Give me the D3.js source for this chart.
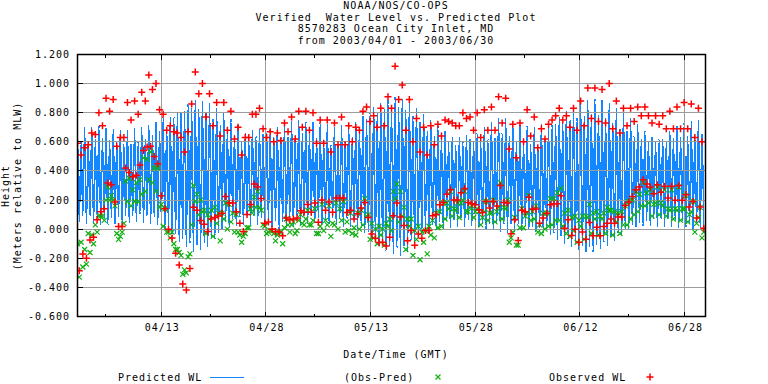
<!DOCTYPE html>
<html><head><meta charset="utf-8">
<script src="https://cdn.jsdelivr.net/npm/d3@7"></script>
<style>
html,body{margin:0;padding:0;background:#fff;}
svg{display:block;}
text{font-family:"DejaVu Sans Mono",monospace;font-size:10px;letter-spacing:1px;fill:#000;white-space:pre;}
</style></head><body>
<svg id="chart" width="768" height="384"></svg>
<script>
// ---------------- data ----------------
const titleLines = ["NOAA/NOS/CO-OPS", "Verified  Water Level vs. Predicted Plot", "8570283 Ocean City Inlet, MD", "from 2003/04/01 - 2003/06/30"];
const yTickValues = [-0.6, -0.4, -0.2, 0.0, 0.2, 0.4, 0.6, 0.8, 1.0, 1.2];
const majorTickDays = [12, 27, 42, 57, 72, 87];
const majorTickLabels = ["04/13", "04/28", "05/13", "05/28", "06/12", "06/28"];
const minorTickDays = [4, 19, 34, 49, 64, 79];
const dayDomain = [0, 90];           // days after 2003/04/01 00:00 GMT
const firstHighDay = 0.0;            // time of first high water (days)
const tideStep = 0.5114;             // days between successive high waters

// predicted high / low waters (m, MLW)
const predHigh = [.69,.60,.70,.61,.70,.62,.71,.62,.70,.61,.69,.60,.68,.59,.68,.59,.69,.60,.70,.62,
 .72,.64,.74,.67,.77,.70,
 .77,.77,.80,.81,.81,.86,.83,.89,.83,.88,.80,.86,
 .76,.83,.72,.80,.68,.76,.64,.72,
 .60,.66,.62,.68,.64,.68,.66,.66,.68,.63,.70,.63,
 .72,.64,.74,.65,.75,.66,.74,
 .65,.74,.62,.73,.60,.72,.58,.70,.58,.71,.60,.72,
 .63,.74,.68,.78,.75,.81,
 .84,.80,.87,.82,.89,.84,.91,.84,.90,.82,.87,.78,.83,.74,
 .79,.68,.75,.64,.71,.62,.68,
 .60,.64,.58,.63,.60,.64,.62,.60,.66,.60,
 .70,.62,.73,.63,.76,.66,
 .76,.64,.74,.60,.72,.59,.71,.58,.70,.58,.72,.62,
 .70,.72,.72,.77,.73,.81,.75,.84,
 .77,.86,.78,.89,.79,.90,.78,.89,.76,.87,.73,.83,.69,
 .80,.68,.76,.64,.72,.62,.68,.60,.64,.60,.62,.62,
 .60,.68,.62,.71,.63,.73,.64,.74,.65,.75,.66];
const predLow = [.05,.09,.04,.09,.04,.08,.03,.08,.03,.08,.03,.09,.04,.09,.04,.09,.05,.10,.05,.09,.04,.08,.03,.06,
 .00,.02,-.04,-.03,-.09,-.07,-.12,-.10,-.15,-.11,-.14,-.10,-.12,-.06,-.07,-.02,
 .00,.05,.01,.07,.02,.08,.03,.09,.03,.09,.03,.08,.02,.07,.01,.06,.00,.05,
 .01,.08,.02,.09,.03,.09,.04,.09,.04,.08,.03,.07,.03,.08,.03,.07,.02,.07,.02,.06,.00,
 .02,-.03,-.02,-.07,-.06,-.11,-.09,-.15,-.12,-.17,-.13,-.18,-.12,-.15,-.08,-.10,-.05,-.04,
 .00,-.03,.03,-.01,.05,.00,.06,.01,.06,.02,.07,.02,.06,.02,.05,.01,.04,
 .00,.04,-.01,.04,-.02,.03,-.02,.03,-.02,.03,-.01,.03,-.01,.02,-.02,.01,-.03,.00,
 -.04,-.03,-.07,-.05,-.10,-.07,-.12,-.09,-.15,-.11,-.16,-.12,-.16,-.11,-.14,-.09,-.11,-.06,-.08,-.03,-.04,
 .00,.00,.03,.01,.05,.02,.06,.02,.07,.02,.07,.02,.07,.02,.06,.01,.06,.01,.05,.00,.04,.00,.03];

// observed high / low waters
const obsHigh = [.59,.51,.56,.58,.66,.65,.80,.71,.90,.81,.89,.57,.63,.63,.87,.75,.88,.79,.94,.88,1.06,.96,1.00,.82,.79,.68,.71,.67,.66,.63,.53,.67,.86,1.08,.93,1.00,.77,.93,.71,.87,.64,.87,.68,.81,.62,.70,.51,.63,.63,.79,.79,.83,.69,.63,.67,.60,.66,.61,.73,.67,.77,
 .62,.81,.70,.81,.68,.80,.59,.75,.59,.75,.53,.73,.58,.77,.58,.71,.60,.70,.68,.81,.84,.74,.78,.70,.83,.71,.91,.83,1.12,.89,.99,.68,.89,.60,.76,.53,.70,.51,.71,.58,.72,.64,.75,.74,.73,.71,.71,.80,.76,.77,.68,.80,.63,.82,.68,.84,.68,.91,
 .73,.90,.55,.72,.49,.73,.60,.82,.64,.77,.56,.69,.62,.72,.75,.78,.83,.75,.78,.70,.83,.68,.88,.71,.97,.76,.97,.74,.96,.73,1.00,.69,.88,.66,.83,.71,.83,.74,.84,.78,.84,.78,.73,.78,.72,.78,.69,.81,.69,.84,.69,.87,.69,.86,.63,.83,.60];
const obsLow = [-.285,-.17,-.20,-.074,-.055,.064,.12,.14,.317,.306,.186,.018,.018,.42,.39,.36,.37,.44,.54,.565,.57,.50,.45,.23,
 .14,.00,-.06,-.165,-.246,-.377,-.418,-.27,.15,.13,.06,.034,-.016,.07,.08,.09,
 .11,.225,.18,.18,.12,.04,-.016,.10,.17,.31,.29,.21,.04,.05,.00,-.016,-.02,-.046,
 .076,.064,.07,.076,.126,.117,.17,.117,.18,.048,.20,.13,.186,.117,.214,.214,.214,.115,.13,.07,.106,
 .145,.184,.08,-.034,-.062,-.092,-.09,-.115,-.055,.092,.18,.083,.025,-.08,-.009,-.11,-.034,-.062,
 -.009,-.009,.092,.10,.168,.184,.24,.27,.20,.20,.25,.28,.184,.175,.168,.133,.115,
 .19,.145,.19,.16,.30,.184,.18,-.032,.064,-.078,.13,.12,.22,.138,.138,.04,.076,.11,
 .168,.175,.175,.23,.007,.064,-.044,.00,-.09,-.02,-.07,.046,-.046,.014,-.046,.018,.04,.07,.04,.083,.083,
 .163,.186,.225,.27,.29,.34,.31,.29,.244,.306,.253,.294,.214,.294,.198,.30,.198,.237,.152,.19,.076,.152,.007];

// observed minus predicted at high / low waters
const diffHigh = [-.10,-.09,-.14,-.03,-.04,.03,.09,.09,.20,.20,.20,-.03,-.05,.04,.19,.16,.19,.19,.24,.26,
 .34,.32,.26,.15,.02,-.02,
 -.06,-.10,-.14,-.18,-.28,-.19,.03,.19,.10,.12,-.03,.07,
 -.05,.04,-.08,.07,.00,.05,-.02,-.02,
 -.09,-.03,.01,.11,.15,.15,.03,-.03,-.01,-.03,-.04,-.02,
 .01,.03,.03,-.03,.06,.04,.07,
 .03,.06,-.03,.02,-.01,.03,-.05,.03,.00,.06,-.02,-.01,
 -.03,-.04,.00,.03,.09,-.07,
 -.06,-.10,-.04,-.11,.02,-.01,.21,.05,.09,-.14,.02,-.18,-.07,-.21,
 -.09,-.17,-.04,-.06,.01,.02,.07,
 .14,.09,.13,.08,.20,.12,.15,.08,.14,.03,
 .12,.06,.11,.05,.15,.07,
 .14,-.09,-.02,-.11,.01,.01,.11,.06,.07,-.02,-.03,.00,
 .02,.03,.06,.06,.02,-.03,-.05,-.01,
 -.09,.02,-.07,.08,-.03,.07,-.04,.07,-.03,.13,-.04,.05,-.03,
 .03,.03,.07,.10,.12,.16,.16,.18,.09,.18,.10,.16,
 .09,.13,.07,.13,.06,.14,.05,.12,-.02,.08,-.06];
const diffLow = [-.33,-.26,-.24,-.16,-.10,-.02,.09,.06,.29,.23,.16,-.07,-.02,.33,.35,.27,.32,.34,.49,.48,.53,.42,.42,.17,
 .14,-.02,-.02,-.14,-.16,-.31,-.30,-.17,.30,.24,.20,.13,.10,.13,.15,.11,
 .11,.18,.17,.11,.10,-.04,-.05,.01,.14,.22,.26,.13,.02,-.02,-.01,-.08,-.02,-.10,
 .07,-.02,.05,-.01,.10,.03,.13,.03,.14,-.03,.17,.06,.16,.04,.18,.14,.19,.05,.11,.01,.11,
 .13,.21,.10,.04,.00,.02,.00,.04,.07,.26,.31,.26,.15,.07,.07,-.01,.02,-.02,
 -.01,.02,.06,.11,.12,.18,.18,.26,.14,.18,.18,.26,.12,.16,.12,.12,.08,
 .19,.11,.20,.12,.32,.15,.20,-.06,.08,-.11,.14,.09,.23,.12,.16,.03,.11,.11,
 .21,.21,.25,.28,.11,.13,.08,.09,.06,.09,.09,.17,.11,.12,.09,.11,.15,.13,.12,.11,.12,
 .16,.19,.20,.26,.24,.32,.25,.27,.17,.29,.18,.27,.14,.27,.14,.29,.14,.23,.10,.19,.04,.15,-.02];

const legendItems = [
  {label: "Predicted WL", kind: "line"},
  {label: "(Obs-Pred)", kind: "x"},
  {label: "Observed WL", kind: "plus"}
];
const xAxisTitle = "Date/Time (GMT)";
const yAxisTitle = ["Height", "(Meters relative to MLW)"];

// ---------------- drawing ----------------
const COL_PRED = "#1287ff", COL_DIFF = "#11b011", COL_OBS = "#ff0000", COL_GRID = "#9c9c9c";
const svg = d3.select("#chart");
const L = 77.5, R = 705.5, T = 54.5, B = 316.5;
const x = d3.scaleLinear().domain(dayDomain).range([L, R]);
const y = d3.scaleLinear().domain([-0.6, 1.2]).range([B, T]);

const highDay = i => firstHighDay + i * tideStep;
const lowDay = i => firstHighDay + (i + 0.5) * tideStep;

// title
svg.append("g").selectAll("text").data(titleLines).join("text")
  .attr("x", 396).attr("y", (d, i) => 9 + i * 11.5)
  .attr("text-anchor", "middle").attr("xml:space", "preserve").text(d => d);

svg.append("clipPath").attr("id", "plotclip")
  .append("rect").attr("x", L).attr("y", T).attr("width", R - L).attr("height", B - T);

// predicted line (alternating highs and lows, smooth between extremes)
const predPts = [];
predHigh.forEach((h, i) => {
  predPts.push([highDay(i), h]);
  if (i < predLow.length) predPts.push([lowDay(i), predLow[i]]);
});
svg.append("path").datum(predPts)
  .attr("clip-path", "url(#plotclip)")
  .attr("fill", "none").attr("stroke", COL_PRED).attr("stroke-width", 1.5)
  .attr("shape-rendering", "crispEdges")
  .attr("d", d3.line().curve(d3.curveMonotoneX).x(d => x(d[0])).y(d => y(d[1])));

// grid
const grid = svg.append("g").attr("stroke", COL_GRID).attr("stroke-width", 1).attr("shape-rendering", "crispEdges");
grid.selectAll("line.h").data(yTickValues.filter(v => v > -0.59 && v < 1.19)).join("line")
  .attr("x1", L).attr("x2", R).attr("y1", d => y(d)).attr("y2", d => y(d));
grid.selectAll("line.v").data(majorTickDays).join("line").attr("class", "v")
  .attr("y1", T).attr("y2", B).attr("x1", d => x(d)).attr("x2", d => x(d));

// residual markers (x)
const diffPts = [];
diffHigh.forEach((v, i) => diffPts.push([highDay(i), v]));
diffLow.forEach((v, i) => diffPts.push([lowDay(i), v]));
const xSym = "M-2.5,-2.5L2.5,2.5M-2.5,2.5L2.5,-2.5";
const plusSym = "M-3.5,0H3.5M0,-3.5V3.5";
svg.append("g").attr("clip-path", "url(#plotclip)").selectAll("path").data(diffPts).join("path")
  .attr("transform", d => `translate(${x(d[0])},${y(d[1])})`)
  .attr("d", xSym).attr("stroke", COL_DIFF).attr("stroke-width", 1.2).attr("fill", "none");

// observed markers (+)
const obsPts = [];
obsHigh.forEach((v, i) => obsPts.push([highDay(i), v]));
obsLow.forEach((v, i) => obsPts.push([lowDay(i), v]));
svg.append("g").attr("clip-path", "url(#plotclip)").selectAll("path").data(obsPts).join("path")
  .attr("transform", d => `translate(${x(d[0])},${y(d[1])})`)
  .attr("d", plusSym).attr("stroke", COL_OBS).attr("stroke-width", 1.5).attr("fill", "none");

// frame
svg.append("rect").attr("x", L).attr("y", T).attr("width", R - L).attr("height", B - T)
  .attr("fill", "none").attr("stroke", "#000").attr("stroke-width", 1.5);

// ticks
const tk = svg.append("g").attr("stroke", "#000").attr("stroke-width", 1).attr("shape-rendering", "crispEdges");
tk.selectAll("line.yl").data(yTickValues).join("line").attr("class", "yl")
  .attr("x1", L).attr("x2", L + 5).attr("y1", d => y(d)).attr("y2", d => y(d));
tk.selectAll("line.tmj").data(majorTickDays).join("line").attr("class", "tmj")
  .attr("x1", d => x(d)).attr("x2", d => x(d)).attr("y1", T).attr("y2", T + 5);
tk.selectAll("line.bmj").data(majorTickDays).join("line").attr("class", "bmj")
  .attr("x1", d => x(d)).attr("x2", d => x(d)).attr("y1", B).attr("y2", B - 5);
tk.selectAll("line.tmn").data(minorTickDays).join("line").attr("class", "tmn")
  .attr("x1", d => x(d)).attr("x2", d => x(d)).attr("y1", T).attr("y2", T + 3);
tk.selectAll("line.bmn").data(minorTickDays).join("line").attr("class", "bmn")
  .attr("x1", d => x(d)).attr("x2", d => x(d)).attr("y1", B).attr("y2", B - 3);

// y tick labels
svg.append("g").selectAll("text").data(yTickValues).join("text")
  .attr("x", 70).attr("y", d => y(d) + 3.5).attr("text-anchor", "end")
  .text(d => d3.format(".3f")(d).replace("−", "-"));

// x tick labels
svg.append("g").selectAll("text").data(majorTickDays).join("text")
  .attr("x", d => x(d) + 1).attr("y", 331).attr("text-anchor", "middle")
  .text((d, i) => majorTickLabels[i]);

// axis titles
svg.append("text").attr("x", 396).attr("y", 358).attr("text-anchor", "middle").text(xAxisTitle);
svg.append("g").selectAll("text").data(yAxisTitle).join("text")
  .attr("transform", (d, i) => `translate(${8.5 + i * 12.5},186) rotate(-90)`)
  .attr("text-anchor", "middle").text(d => d);

// legend
const lg = svg.append("g");
lg.append("text").attr("x", 118).attr("y", 381).text(legendItems[0].label);
lg.append("line").attr("x1", 210).attr("x2", 244).attr("y1", 377.5).attr("y2", 377.5)
  .attr("stroke", COL_PRED).attr("stroke-width", 1);
lg.append("text").attr("x", 344).attr("y", 381).text(legendItems[1].label);
lg.append("path").attr("transform", "translate(438,377)").attr("d", xSym)
  .attr("stroke", COL_DIFF).attr("stroke-width", 1.2).attr("fill", "none");
lg.append("text").attr("x", 549).attr("y", 381).text(legendItems[2].label);
lg.append("path").attr("transform", "translate(650,377)").attr("d", plusSym)
  .attr("stroke", COL_OBS).attr("stroke-width", 1.5).attr("fill", "none");
</script>
</body></html>
